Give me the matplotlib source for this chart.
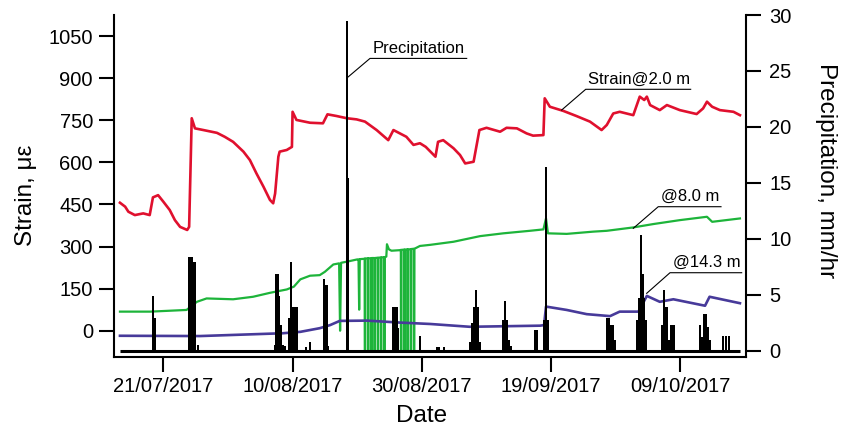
import numpy as np
import pandas as pd
import matplotlib
matplotlib.use("Agg")
import matplotlib.pyplot as plt
import matplotlib.dates as mdates

plt.rcParams['font.family'] = ['Liberation Sans', 'DejaVu Sans']

START = pd.Timestamp('2017-07-13')

# ---- Strain @ 2.0 m (days since START, microstrain) ----
red_day = [1.3, 2.1, 2.6, 3.6, 4.9, 5.9, 6.4, 7.2, 8.0, 9.0, 9.8, 10.6, 11.7, 12.0,
           12.4, 12.9, 14.2, 16.3, 17.5, 18.8, 20.4, 21.4, 22.4, 23.5, 24.5, 25.0,
           25.3, 25.8, 26.0, 27.1, 27.9, 28.0, 28.6, 30.7, 32.7, 33.4, 34.8, 36.4,
           37.9, 39.2, 41.0, 42.8, 43.6, 44.6, 45.6, 46.7, 47.7, 48.6, 50.1, 50.5,
           51.3, 52.9, 53.9, 54.7, 56.0, 56.9, 58.0, 60.1, 61.1, 62.7, 64.2, 65.2,
           66.8, 67.0, 67.8, 69.9, 71.9, 74.0, 75.8, 76.6, 77.6, 78.6, 80.7, 81.7,
           82.4, 82.8, 83.3, 84.8, 85.9, 87.9, 90.5, 91.5, 92.1, 92.9, 94.1, 96.2, 97.2]
red_val = [456, 442, 424, 412, 418, 412, 475, 483, 460, 430, 394, 370, 359, 370,
           757, 721, 715, 705, 691, 673, 638, 608, 561, 513, 466, 454,
           489, 620, 638, 644, 655, 780, 751, 741, 739, 771, 765, 757,
           753, 745, 715, 679, 715, 703, 691, 662, 668, 655, 620, 673,
           679, 650, 626, 596, 602, 715, 723, 709, 723, 721, 703, 695,
           697, 828, 798, 783, 765, 745, 715, 733, 774, 780, 768, 834,
           822, 834, 804, 786, 804, 786, 772, 792, 816, 798, 786, 780, 768]

# ---- Strain @ 8.0 m (with sensor drop-outs) ----
green_day = [1.3, 6.0, 11.6, 13.2, 14.7, 18.8, 21.9, 24.5, 27.1, 28.2, 29.2, 30.7,
             32.2, 33.0, 34.3, 35.2, 35.35, 35.5, 36.4, 38.0, 38.2, 38.3, 38.4, 39.0,
             39.15, 39.17, 39.23, 39.25, 39.65, 39.67, 39.73, 39.75,
             40.15, 40.17, 40.23, 40.25, 40.65, 40.67, 40.73, 40.75,
             41.15, 41.17, 41.23, 41.25, 41.65, 41.67, 41.73, 41.75,
             42.15, 42.17, 42.23, 42.25, 42.5, 42.6, 42.9, 43.3, 44.6,
             44.75, 44.77, 44.83, 44.85, 45.25, 45.27, 45.33, 45.35,
             45.75, 45.77, 45.83, 45.85, 46.25, 46.27, 46.33, 46.35,
             46.75, 46.77, 46.83, 46.85,
             47.7, 49.3, 52.9, 57.0, 60.6, 64.7, 66.8, 67.2, 67.5, 70.4, 74.5, 76.6,
             80.7, 83.8, 87.9, 92.1, 92.9, 97.2]
green_val = [68, 68, 74, 103, 115, 112, 121, 135, 147, 157, 183, 196,
             198, 210, 236, 240, 0, 242, 246, 254, 254, 75, 255, 256,
             257, -72, -72, 257, 258, -72, -72, 258,
             258, -72, -72, 259, 259, -72, -72, 259,
             260, -72, -72, 260, 261, -72, -72, 261,
             262, -72, -72, 262, 264, 308, 290, 285, 287,
             288, -72, -72, 288, 289, -72, -72, 289,
             290, -72, -72, 290, 290, -72, -72, 291,
             292, -72, -72, 292,
             302, 306, 317, 337, 347, 356, 361, 400, 347, 345, 353, 356,
             368, 380, 394, 406, 388, 400]

# ---- Strain @ 14.3 m ----
blue_day = [1.3, 13.7, 21.4, 26.5, 29.2, 32.2, 33.8, 35.3, 39.5, 44.6, 49.3, 55.4,
            66.3, 66.9, 67.2, 70.4, 73.5, 77.1, 78.6, 81.5, 82.8, 84.8, 86.9, 91.8,
            92.5, 97.2]
blue_val = [-18, -19, -13, -9, -4, 9, 20, 35, 36, 29, 24, 14,
            18, 20, 86, 74, 59, 52, 68, 68, 124, 103, 112, 89,
            121, 98]

# ---- Precipitation (days since START, mm/hr) ----
rain_day = [6.45, 6.65,
            12.05, 12.35, 12.65, 12.95, 13.35,
            25.3, 25.5, 25.75, 25.95, 26.2, 26.5, 26.8,
            27.45, 27.8, 28.1, 28.4, 28.7,
            30.1, 30.7,
            32.9, 33.25, 33.5,
            36.4, 36.6,
            43.5, 43.75, 44.05, 44.35,
            47.7,
            50.35, 50.7, 51.4,
            55.45, 55.75, 56.05, 56.35, 56.7, 57.0,
            60.55, 60.85, 61.15, 61.5, 61.8,
            65.5, 65.8,
            66.95, 67.2, 67.45,
            76.6, 76.9, 77.2, 77.5, 77.8,
            81.3, 81.6, 81.9, 82.15, 82.4, 82.7,
            85.2, 85.5, 85.85, 86.2,
            86.6, 86.9,
            91.0, 91.3, 91.6, 91.9, 92.25, 92.55,
            94.6, 95.05, 95.5]
rain_val = [4.9, 2.9,
            8.4, 8.4, 7.9, 7.9, 0.5,
            0.5, 6.9, 6.9, 4.9, 2.3, 0.5, 0.4,
            2.9, 7.9, 3.9, 3.9, 3.9,
            0.36, 0.8,
            6.4, 5.9, 0.4,
            29.5, 15.4,
            3.9, 3.9, 3.9, 2.0,
            1.3,
            0.36, 0.36, 0.36,
            0.8, 2.5, 3.9, 5.4, 3.9, 0.8,
            2.7, 4.4, 2.7, 1.0, 0.4,
            1.85, 1.85,
            2.7, 16.4, 2.7,
            2.9, 2.9, 2.3, 2.3, 1.0,
            2.7, 4.7, 10.3, 6.9, 4.7, 2.7,
            2.3, 5.4, 3.9, 1.0,
            2.3, 2.3,
            2.3, 1.2, 3.3, 3.3, 2.1, 1.0,
            1.3, 1.3, 1.3]
rain_span = [1.3, 97.2]

xtick_dates = ['2017-07-21', '2017-08-10', '2017-08-30', '2017-09-19', '2017-10-09']
strain_ticks = [0, 150, 300, 450, 600, 750, 900, 1050]
rain_ticks = [0, 5, 10, 15, 20, 25, 30]


def to_num(days):
    ts = START + pd.to_timedelta(np.asarray(days, dtype=float), unit='D')
    return mdates.date2num(ts.to_pydatetime())


RED = '#E0102E'
GREEN = '#1DB43A'
BLUE = '#473A9A'

fig = plt.figure(figsize=(8.43, 4.33), dpi=100)
ax = fig.add_axes([0.1358, 0.1762, 0.7497, 0.7891])
ax2 = ax.twinx()

ax.plot(to_num(red_day), red_val, color=RED, lw=1.9, zorder=3)
ax.plot(to_num(green_day), green_val, color=GREEN, lw=1.6, zorder=2)
ax.plot(to_num(blue_day), blue_val, color=BLUE, lw=1.9, zorder=3)

ax2.bar(to_num(rain_day), rain_val, width=0.36, color='black', linewidth=0, align='center')
ax2.plot(to_num(rain_span), [0, 0], color='black', lw=2.2, solid_capstyle='butt')

xl = to_num([0.452, 98.21])
ax.set_xlim(xl[0], xl[1])
ax.set_ylim(-92.6, 1124.8)
ax2.set_ylim(-0.536, 30.0)

ax.set_xticks(mdates.date2num(pd.to_datetime(xtick_dates).to_pydatetime()))
ax.xaxis.set_major_formatter(mdates.DateFormatter('%d/%m/%Y'))
ax.set_yticks(strain_ticks)
ax2.set_yticks(rain_ticks)

for a in (ax, ax2):
    a.spines['top'].set_visible(False)
    for s in a.spines.values():
        s.set_linewidth(1.5)
ax.spines['right'].set_visible(False)
ax2.spines['left'].set_visible(False)
ax2.spines['bottom'].set_visible(False)

ax.tick_params(axis='both', direction='out', length=10.5, width=1.5, labelsize=14.5)
ax.tick_params(axis='y', pad=5)
ax.tick_params(axis='x', pad=4)
ax2.tick_params(axis='y', direction='out', length=10.5, width=1.5, labelsize=14.5, pad=6)

ax.set_xlabel('Date', fontsize=17.5, va='center')
ax.xaxis.set_label_coords(0.4866, -0.1735)
ax.set_ylabel('Strain, με', fontsize=17.5, va='center')
ax.yaxis.set_label_coords(-0.14, 0.473)
ax2.set_ylabel('Precipitation, mm/hr', fontsize=17.5, rotation=270, va='center')
ax2.yaxis.set_label_coords(1.1258, 0.546)

# Callout labels (axes-fraction positions)
callouts = [
    ('Precipitation', (0.4043, 0.5573, 0.873), (0.369, 0.8177)),
    ('Strain@2.0 m', (0.7456, 0.9117, 0.7826), (0.7076, 0.722)),
    ('@8.0 m', (0.8604, 0.9597, 0.439), (0.8209, 0.3758)),
    ('@14.3 m', (0.879, 0.9924, 0.2458), (0.8421, 0.1855)),
]
for text, (x0, x1, yy), (px, py) in callouts:
    ax2.plot([px, x0, x1], [py, yy, yy], color='black', lw=0.8,
             transform=ax.transAxes, clip_on=False)
    ax2.text(x0 + 0.004, yy + 0.008, text, fontsize=12, ha='left', va='bottom',
             transform=ax.transAxes)

fig.savefig('out.png', dpi=100)
